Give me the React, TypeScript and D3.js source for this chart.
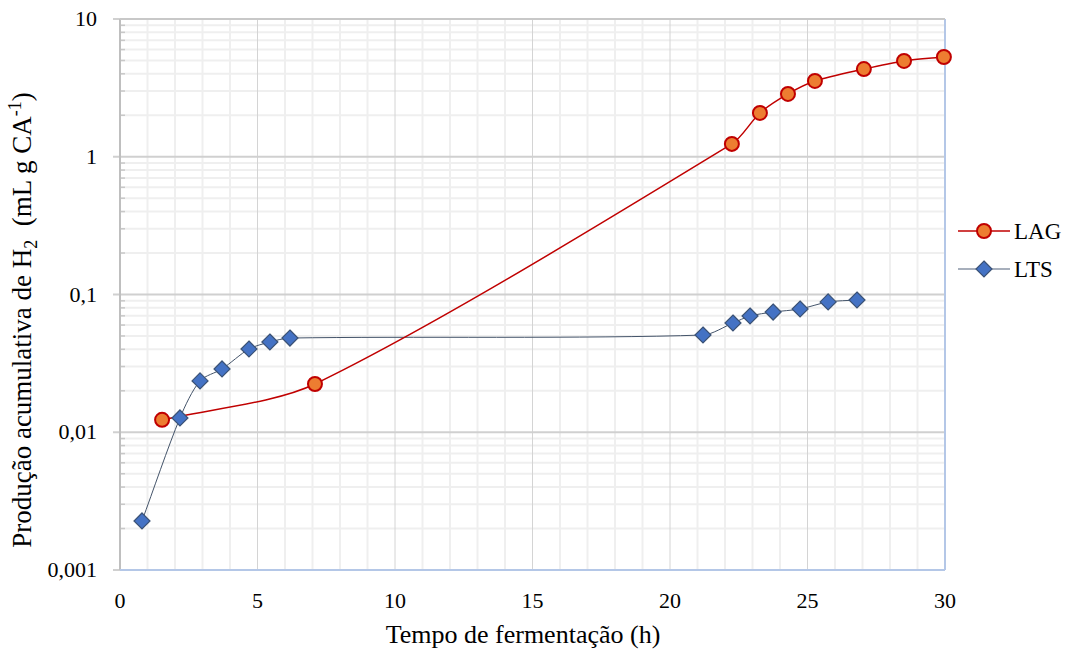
import React from "react";
import * as d3 from "d3";

const lagX = [1.53, 7.09, 22.25, 23.27, 24.29, 25.27, 27.05, 28.51, 29.96];
const lagY = [0.0123, 0.0224, 1.24, 2.08, 2.86, 3.55, 4.33, 4.96, 5.3];
const ltsX = [0.8, 2.18, 2.91, 3.71, 4.69, 5.45, 6.18, 21.2, 22.29, 22.91, 23.75, 24.73, 25.75, 26.8];
const ltsY = [0.00227, 0.0127, 0.0236, 0.0288, 0.0402, 0.0452, 0.0483, 0.0508, 0.0621, 0.0698, 0.0746, 0.0785, 0.0883, 0.0912];
const xTicks = [0, 5, 10, 15, 20, 25, 30];
const yTicks = [0.001, 0.01, 0.1, 1, 10];
const yTickLabels = ["0,001", "0,01", "0,1", "1", "10"];

const W = 1068, H = 651;
const L = 120, R = 945, T = 19, B = 570;
const font = "Liberation Serif, Times New Roman, serif";

// smooth path in pixel space (Excel-like smoothing, no loops)
function smoothPath(pts: [number, number][], k = 0.28): string {
  const p = d3.path();
  const n = pts.length;
  const dirs = pts.map((_, i) => {
    const a = pts[Math.max(0, i - 1)], b = pts[Math.min(n - 1, i + 1)];
    const dx = b[0] - a[0], dy = b[1] - a[1];
    const len = Math.hypot(dx, dy) || 1;
    return [dx / len, dy / len];
  });
  p.moveTo(pts[0][0], pts[0][1]);
  for (let i = 0; i < n - 1; i++) {
    const a = pts[i], b = pts[i + 1];
    const d = Math.hypot(b[0] - a[0], b[1] - a[1]) * k;
    p.bezierCurveTo(a[0] + dirs[i][0] * d, a[1] + dirs[i][1] * d, b[0] - dirs[i + 1][0] * d, b[1] - dirs[i + 1][1] * d, b[0], b[1]);
  }
  return p.toString();
}

export default function App() {
  const x = d3.scaleLinear().domain([0, 30]).range([L, R]);
  const y = d3.scaleLog().domain([0.001, 10]).range([B, T]);
  const lag = lagX.map((v, i) => [v, lagY[i]] as [number, number]);
  const lts = ltsX.map((v, i) => [v, ltsY[i]] as [number, number]);
  const toPx = (arr: [number, number][]) => arr.map(d => [x(d[0]), y(d[1])] as [number, number]);

  const minorX = d3.range(1, 30).filter(v => v % 5 !== 0);
  const majorX = [5, 10, 15, 20, 25];
  const minorY: number[] = [];
  [0.001, 0.01, 0.1, 1].forEach(dec => { for (let k = 2; k <= 9; k++) minorY.push(dec * k); });

  const diamond = (cx: number, cy: number, s: number) => `M${cx},${cy - s}L${cx + s},${cy}L${cx},${cy + s}L${cx - s},${cy}Z`;

  return (
    <svg width={W} height={H} style={{ position: "absolute", left: 0, top: 0, background: "#fff" }}>
      {minorX.map(v => <line key={"mx" + v} x1={x(v)} x2={x(v)} y1={T} y2={B} stroke="#efefef" strokeWidth={2} />)}
      {minorY.map(v => <line key={"my" + v} x1={L} x2={R} y1={y(v)} y2={y(v)} stroke="#efefef" strokeWidth={2} />)}
      {majorX.map(v => <line key={"Mx" + v} x1={x(v)} x2={x(v)} y1={T} y2={B} stroke="#d4d4d4" strokeWidth={1} />)}
      {yTicks.map(v => <line key={"My" + v} x1={L - 7} x2={R} y1={y(v)} y2={y(v)} stroke="#d0d0d0" strokeWidth={2} />)}
      {minorY.map(v => <line key={"mt" + v} x1={L} x2={L + 5} y1={y(v)} y2={y(v)} stroke="#c8c8c8" strokeWidth={1.5} />)}
      <line x1={L} x2={L} y1={T} y2={B} stroke="#bfbfbf" strokeWidth={2} />
      <line x1={L} x2={R} y1={B} y2={B} stroke="#b4c7e7" strokeWidth={2} />
      <line x1={R} x2={R} y1={T} y2={B} stroke="#b4c7e7" strokeWidth={2} />
      <line x1={L} x2={R} y1={T} y2={T} stroke="#c8c8c8" strokeWidth={2} />

      <path d={smoothPath(toPx(lts))} fill="none" stroke="#44546a" strokeWidth={1} />
      <path d={smoothPath(toPx(lag))} fill="none" stroke="#c00000" strokeWidth={1.5} />
      {lts.map((d, i) => <path key={"d" + i} d={diamond(x(d[0]), y(d[1]), 8)} fill="#4472c4" stroke="#3b5275" strokeWidth={1.2} />)}
      {lag.map((d, i) => <circle key={"c" + i} cx={x(d[0])} cy={y(d[1])} r={7} fill="#ed7d31" stroke="#c00000" strokeWidth={2} />)}

      {xTicks.map(v => <text key={"xl" + v} x={x(v)} y={608} textAnchor="middle" fontFamily={font} fontSize={22} fill="#000">{v}</text>)}
      {yTicks.map((v, i) => <text key={"yl" + v} x={97} y={y(v) + 7} textAnchor="end" fontFamily={font} fontSize={22} fill="#000">{yTickLabels[i]}</text>)}

      <text x={523} y={643} textAnchor="middle" fontFamily={font} fontSize={26} fill="#000">Tempo de fermentação (h)</text>
      <text transform="translate(31,320) rotate(-90)" textAnchor="middle" fontFamily={font} fontSize={27} fill="#000">
        Produção acumulativa de H<tspan fontSize={18} dy={6}>2</tspan><tspan dy={-6}>{"\u00a0 (mL g CA"}</tspan><tspan fontSize={18} dy={-10}>-1</tspan><tspan dy={10}>)</tspan>
      </text>

      <line x1={958} x2={1010} y1={231} y2={231} stroke="#c00000" strokeWidth={1.5} />
      <circle cx={984} cy={231} r={7} fill="#ed7d31" stroke="#c00000" strokeWidth={2} />
      <text x={1014} y={239} fontFamily={font} fontSize={23} fill="#000">LAG</text>
      <line x1={958} x2={1010} y1={269} y2={269} stroke="#8a94a6" strokeWidth={1.5} />
      <path d={diamond(984, 269, 8)} fill="#4472c4" stroke="#3b5275" strokeWidth={1.2} />
      <text x={1014} y={277} fontFamily={font} fontSize={23} fill="#000">LTS</text>
    </svg>
  );
}
